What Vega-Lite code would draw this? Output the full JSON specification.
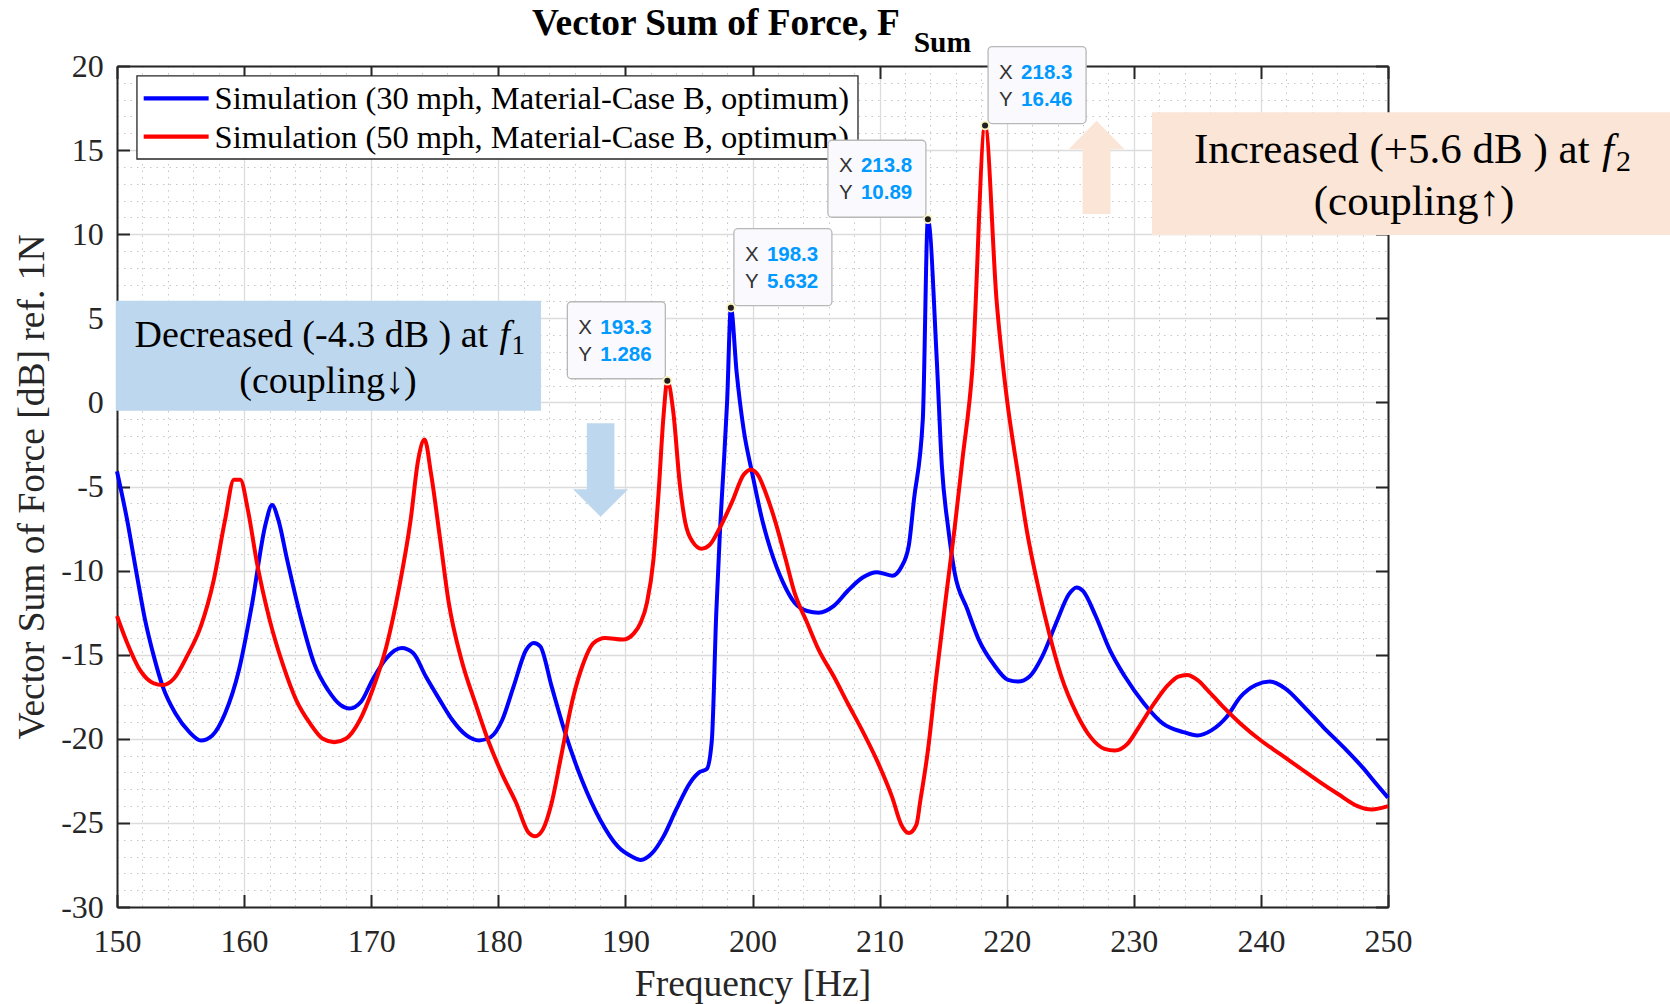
{
  "$schema": "https://vega.github.io/schema/vega-lite/v6.json",
  "width": 1271,
  "height": 841,
  "autosize": {"type": "none"},
  "padding": {"left": 117, "top": 66, "right": 282, "bottom": 97},
  "background": "white",
  "data": {"values": [{}]},
  "config": {
    "view": {"stroke": null},
    "axis": {
      "labelFont": "Liberation Serif",
      "labelFontSize": 32,
      "labelColor": "#262626",
      "labelFlush": false,
      "labelOverlap": false,
      "titleFont": "Liberation Serif",
      "titleFontWeight": "normal",
      "titleFontSize": 37.5,
      "titleColor": "#262626",
      "tickColor": "#262626",
      "domainColor": "#262626",
      "domainWidth": 2
    }
  },
  "datasets": {
    "spectra": [
      {"freq": 150.0, "level": -4.1, "series": "30 mph"},
      {"freq": 150.8, "level": -7.0, "series": "30 mph"},
      {"freq": 151.5, "level": -10.0, "series": "30 mph"},
      {"freq": 152.2, "level": -12.9, "series": "30 mph"},
      {"freq": 152.9, "level": -15.1, "series": "30 mph"},
      {"freq": 153.6, "level": -16.9, "series": "30 mph"},
      {"freq": 154.6, "level": -18.5, "series": "30 mph"},
      {"freq": 155.7, "level": -19.6, "series": "30 mph"},
      {"freq": 156.6, "level": -20.1, "series": "30 mph"},
      {"freq": 157.5, "level": -19.8, "series": "30 mph"},
      {"freq": 158.5, "level": -18.5, "series": "30 mph"},
      {"freq": 159.6, "level": -15.9, "series": "30 mph"},
      {"freq": 160.6, "level": -12.1, "series": "30 mph"},
      {"freq": 161.7, "level": -7.2, "series": "30 mph"},
      {"freq": 162.2, "level": -6.1, "series": "30 mph"},
      {"freq": 162.7, "level": -7.0, "series": "30 mph"},
      {"freq": 163.4, "level": -9.4, "series": "30 mph"},
      {"freq": 164.5, "level": -12.9, "series": "30 mph"},
      {"freq": 165.5, "level": -15.5, "series": "30 mph"},
      {"freq": 166.6, "level": -17.1, "series": "30 mph"},
      {"freq": 167.6, "level": -18.0, "series": "30 mph"},
      {"freq": 168.3, "level": -18.2, "series": "30 mph"},
      {"freq": 169.2, "level": -17.8, "series": "30 mph"},
      {"freq": 170.1, "level": -16.5, "series": "30 mph"},
      {"freq": 171.2, "level": -15.2, "series": "30 mph"},
      {"freq": 172.4, "level": -14.6, "series": "30 mph"},
      {"freq": 173.3, "level": -14.9, "series": "30 mph"},
      {"freq": 174.3, "level": -16.3, "series": "30 mph"},
      {"freq": 175.4, "level": -17.7, "series": "30 mph"},
      {"freq": 176.4, "level": -18.9, "series": "30 mph"},
      {"freq": 177.5, "level": -19.8, "series": "30 mph"},
      {"freq": 178.5, "level": -20.1, "series": "30 mph"},
      {"freq": 179.4, "level": -19.9, "series": "30 mph"},
      {"freq": 180.3, "level": -18.9, "series": "30 mph"},
      {"freq": 181.2, "level": -16.9, "series": "30 mph"},
      {"freq": 182.2, "level": -14.7, "series": "30 mph"},
      {"freq": 182.8, "level": -14.3, "series": "30 mph"},
      {"freq": 183.3, "level": -14.5, "series": "30 mph"},
      {"freq": 184.2, "level": -16.9, "series": "30 mph"},
      {"freq": 185.2, "level": -19.5, "series": "30 mph"},
      {"freq": 186.6, "level": -22.5, "series": "30 mph"},
      {"freq": 188.0, "level": -24.8, "series": "30 mph"},
      {"freq": 189.4, "level": -26.4, "series": "30 mph"},
      {"freq": 190.5, "level": -27.0, "series": "30 mph"},
      {"freq": 191.2, "level": -27.2, "series": "30 mph"},
      {"freq": 192.1, "level": -26.8, "series": "30 mph"},
      {"freq": 193.0, "level": -25.8, "series": "30 mph"},
      {"freq": 194.0, "level": -24.2, "series": "30 mph"},
      {"freq": 195.1, "level": -22.6, "series": "30 mph"},
      {"freq": 195.8, "level": -22.0, "series": "30 mph"},
      {"freq": 196.4, "level": -21.8, "series": "30 mph"},
      {"freq": 196.8, "level": -20.1, "series": "30 mph"},
      {"freq": 197.15, "level": -12.5, "series": "30 mph"},
      {"freq": 197.45, "level": -7.5, "series": "30 mph"},
      {"freq": 197.7, "level": -4.2, "series": "30 mph"},
      {"freq": 198.0, "level": 0.0, "series": "30 mph"},
      {"freq": 198.3, "level": 5.632, "series": "30 mph"},
      {"freq": 198.75, "level": 1.8, "series": "30 mph"},
      {"freq": 199.3, "level": -1.6, "series": "30 mph"},
      {"freq": 200.0, "level": -4.3, "series": "30 mph"},
      {"freq": 200.8, "level": -7.1, "series": "30 mph"},
      {"freq": 201.4, "level": -8.7, "series": "30 mph"},
      {"freq": 202.4, "level": -10.7, "series": "30 mph"},
      {"freq": 203.3, "level": -11.9, "series": "30 mph"},
      {"freq": 204.3, "level": -12.4, "series": "30 mph"},
      {"freq": 205.2, "level": -12.5, "series": "30 mph"},
      {"freq": 206.4, "level": -12.1, "series": "30 mph"},
      {"freq": 207.5, "level": -11.2, "series": "30 mph"},
      {"freq": 208.7, "level": -10.4, "series": "30 mph"},
      {"freq": 209.8, "level": -10.1, "series": "30 mph"},
      {"freq": 211.0, "level": -10.3, "series": "30 mph"},
      {"freq": 211.7, "level": -9.8, "series": "30 mph"},
      {"freq": 212.3, "level": -8.5, "series": "30 mph"},
      {"freq": 212.7, "level": -5.8, "series": "30 mph"},
      {"freq": 213.4, "level": -1.0, "series": "30 mph"},
      {"freq": 213.8, "level": 10.89, "series": "30 mph"},
      {"freq": 214.5, "level": 2.5, "series": "30 mph"},
      {"freq": 214.9, "level": -3.8, "series": "30 mph"},
      {"freq": 215.4, "level": -7.5, "series": "30 mph"},
      {"freq": 215.9, "level": -10.1, "series": "30 mph"},
      {"freq": 216.9, "level": -12.3, "series": "30 mph"},
      {"freq": 217.8, "level": -14.1, "series": "30 mph"},
      {"freq": 219.0, "level": -15.6, "series": "30 mph"},
      {"freq": 220.1, "level": -16.5, "series": "30 mph"},
      {"freq": 220.9, "level": -16.6, "series": "30 mph"},
      {"freq": 221.8, "level": -16.3, "series": "30 mph"},
      {"freq": 222.8, "level": -15.1, "series": "30 mph"},
      {"freq": 223.9, "level": -13.1, "series": "30 mph"},
      {"freq": 224.9, "level": -11.4, "series": "30 mph"},
      {"freq": 225.5, "level": -11.0, "series": "30 mph"},
      {"freq": 226.0, "level": -11.2, "series": "30 mph"},
      {"freq": 227.0, "level": -12.7, "series": "30 mph"},
      {"freq": 228.1, "level": -14.7, "series": "30 mph"},
      {"freq": 229.3, "level": -16.3, "series": "30 mph"},
      {"freq": 230.8, "level": -17.9, "series": "30 mph"},
      {"freq": 232.3, "level": -19.1, "series": "30 mph"},
      {"freq": 233.9, "level": -19.6, "series": "30 mph"},
      {"freq": 235.0, "level": -19.8, "series": "30 mph"},
      {"freq": 236.1, "level": -19.5, "series": "30 mph"},
      {"freq": 237.3, "level": -18.7, "series": "30 mph"},
      {"freq": 238.4, "level": -17.5, "series": "30 mph"},
      {"freq": 239.6, "level": -16.8, "series": "30 mph"},
      {"freq": 240.7, "level": -16.6, "series": "30 mph"},
      {"freq": 241.9, "level": -17.0, "series": "30 mph"},
      {"freq": 243.4, "level": -18.1, "series": "30 mph"},
      {"freq": 244.9, "level": -19.3, "series": "30 mph"},
      {"freq": 246.5, "level": -20.5, "series": "30 mph"},
      {"freq": 248.0, "level": -21.7, "series": "30 mph"},
      {"freq": 249.1, "level": -22.7, "series": "30 mph"},
      {"freq": 250.0, "level": -23.5, "series": "30 mph"},
      {"freq": 150.0, "level": -12.7, "series": "50 mph"},
      {"freq": 150.8, "level": -14.3, "series": "50 mph"},
      {"freq": 151.8, "level": -15.9, "series": "50 mph"},
      {"freq": 152.9, "level": -16.7, "series": "50 mph"},
      {"freq": 153.6, "level": -16.8, "series": "50 mph"},
      {"freq": 154.5, "level": -16.4, "series": "50 mph"},
      {"freq": 155.5, "level": -15.1, "series": "50 mph"},
      {"freq": 156.6, "level": -13.3, "series": "50 mph"},
      {"freq": 157.6, "level": -10.6, "series": "50 mph"},
      {"freq": 158.5, "level": -7.0, "series": "50 mph"},
      {"freq": 159.2, "level": -4.6, "series": "50 mph"},
      {"freq": 159.7, "level": -4.6, "series": "50 mph"},
      {"freq": 160.3, "level": -6.4, "series": "50 mph"},
      {"freq": 161.0, "level": -9.5, "series": "50 mph"},
      {"freq": 162.0, "level": -12.9, "series": "50 mph"},
      {"freq": 163.1, "level": -15.7, "series": "50 mph"},
      {"freq": 164.1, "level": -17.7, "series": "50 mph"},
      {"freq": 165.2, "level": -19.1, "series": "50 mph"},
      {"freq": 166.2, "level": -20.0, "series": "50 mph"},
      {"freq": 167.1, "level": -20.2, "series": "50 mph"},
      {"freq": 168.0, "level": -20.0, "series": "50 mph"},
      {"freq": 169.1, "level": -18.9, "series": "50 mph"},
      {"freq": 170.1, "level": -17.1, "series": "50 mph"},
      {"freq": 171.2, "level": -14.5, "series": "50 mph"},
      {"freq": 172.2, "level": -11.0, "series": "50 mph"},
      {"freq": 173.1, "level": -7.0, "series": "50 mph"},
      {"freq": 173.7, "level": -3.4, "series": "50 mph"},
      {"freq": 174.2, "level": -2.2, "series": "50 mph"},
      {"freq": 174.7, "level": -4.2, "series": "50 mph"},
      {"freq": 175.4, "level": -8.0, "series": "50 mph"},
      {"freq": 176.1, "level": -11.9, "series": "50 mph"},
      {"freq": 177.1, "level": -15.3, "series": "50 mph"},
      {"freq": 178.2, "level": -17.9, "series": "50 mph"},
      {"freq": 179.2, "level": -20.1, "series": "50 mph"},
      {"freq": 180.3, "level": -22.1, "series": "50 mph"},
      {"freq": 181.4, "level": -23.8, "series": "50 mph"},
      {"freq": 182.4, "level": -25.6, "series": "50 mph"},
      {"freq": 182.9, "level": -25.8, "series": "50 mph"},
      {"freq": 183.5, "level": -25.4, "series": "50 mph"},
      {"freq": 184.2, "level": -23.8, "series": "50 mph"},
      {"freq": 184.9, "level": -21.2, "series": "50 mph"},
      {"freq": 185.9, "level": -17.5, "series": "50 mph"},
      {"freq": 186.6, "level": -15.7, "series": "50 mph"},
      {"freq": 187.5, "level": -14.3, "series": "50 mph"},
      {"freq": 188.4, "level": -14.0, "series": "50 mph"},
      {"freq": 189.8, "level": -14.1, "series": "50 mph"},
      {"freq": 190.7, "level": -13.7, "series": "50 mph"},
      {"freq": 191.2, "level": -13.1, "series": "50 mph"},
      {"freq": 191.7, "level": -11.9, "series": "50 mph"},
      {"freq": 192.2, "level": -9.4, "series": "50 mph"},
      {"freq": 192.6, "level": -5.5, "series": "50 mph"},
      {"freq": 193.0, "level": -0.8, "series": "50 mph"},
      {"freq": 193.3, "level": 1.286, "series": "50 mph"},
      {"freq": 193.75, "level": -0.45, "series": "50 mph"},
      {"freq": 194.3, "level": -5.0, "series": "50 mph"},
      {"freq": 194.7, "level": -7.1, "series": "50 mph"},
      {"freq": 195.3, "level": -8.3, "series": "50 mph"},
      {"freq": 196.0, "level": -8.7, "series": "50 mph"},
      {"freq": 196.6, "level": -8.5, "series": "50 mph"},
      {"freq": 197.4, "level": -7.5, "series": "50 mph"},
      {"freq": 198.4, "level": -5.9, "series": "50 mph"},
      {"freq": 199.3, "level": -4.3, "series": "50 mph"},
      {"freq": 199.9, "level": -4.0, "series": "50 mph"},
      {"freq": 200.5, "level": -4.4, "series": "50 mph"},
      {"freq": 201.0, "level": -5.3, "series": "50 mph"},
      {"freq": 201.8, "level": -7.1, "series": "50 mph"},
      {"freq": 202.6, "level": -9.3, "series": "50 mph"},
      {"freq": 203.3, "level": -11.3, "series": "50 mph"},
      {"freq": 204.3, "level": -13.1, "series": "50 mph"},
      {"freq": 205.2, "level": -14.7, "series": "50 mph"},
      {"freq": 206.4, "level": -16.3, "series": "50 mph"},
      {"freq": 207.5, "level": -17.9, "series": "50 mph"},
      {"freq": 208.7, "level": -19.6, "series": "50 mph"},
      {"freq": 209.8, "level": -21.3, "series": "50 mph"},
      {"freq": 211.0, "level": -23.5, "series": "50 mph"},
      {"freq": 211.7, "level": -25.1, "series": "50 mph"},
      {"freq": 212.3, "level": -25.6, "series": "50 mph"},
      {"freq": 212.9, "level": -25.1, "series": "50 mph"},
      {"freq": 213.2, "level": -23.7, "series": "50 mph"},
      {"freq": 213.8, "level": -20.7, "series": "50 mph"},
      {"freq": 214.4, "level": -16.7, "series": "50 mph"},
      {"freq": 215.2, "level": -11.7, "series": "50 mph"},
      {"freq": 215.9, "level": -7.5, "series": "50 mph"},
      {"freq": 216.5, "level": -3.5, "series": "50 mph"},
      {"freq": 217.3, "level": 2.0, "series": "50 mph"},
      {"freq": 218.3, "level": 16.46, "series": "50 mph"},
      {"freq": 219.2, "level": 6.1, "series": "50 mph"},
      {"freq": 220.0, "level": 0.3, "series": "50 mph"},
      {"freq": 220.9, "level": -4.3, "series": "50 mph"},
      {"freq": 221.6, "level": -7.7, "series": "50 mph"},
      {"freq": 222.4, "level": -10.7, "series": "50 mph"},
      {"freq": 223.4, "level": -13.9, "series": "50 mph"},
      {"freq": 224.3, "level": -16.3, "series": "50 mph"},
      {"freq": 225.5, "level": -18.5, "series": "50 mph"},
      {"freq": 226.6, "level": -19.9, "series": "50 mph"},
      {"freq": 227.7, "level": -20.6, "series": "50 mph"},
      {"freq": 228.5, "level": -20.7, "series": "50 mph"},
      {"freq": 229.5, "level": -20.3, "series": "50 mph"},
      {"freq": 230.4, "level": -19.3, "series": "50 mph"},
      {"freq": 231.6, "level": -17.9, "series": "50 mph"},
      {"freq": 232.7, "level": -16.8, "series": "50 mph"},
      {"freq": 233.5, "level": -16.3, "series": "50 mph"},
      {"freq": 234.2, "level": -16.2, "series": "50 mph"},
      {"freq": 235.0, "level": -16.5, "series": "50 mph"},
      {"freq": 235.8, "level": -17.1, "series": "50 mph"},
      {"freq": 236.9, "level": -18.0, "series": "50 mph"},
      {"freq": 238.4, "level": -19.1, "series": "50 mph"},
      {"freq": 240.0, "level": -20.1, "series": "50 mph"},
      {"freq": 241.5, "level": -20.9, "series": "50 mph"},
      {"freq": 243.0, "level": -21.7, "series": "50 mph"},
      {"freq": 244.5, "level": -22.5, "series": "50 mph"},
      {"freq": 246.1, "level": -23.3, "series": "50 mph"},
      {"freq": 247.6, "level": -24.0, "series": "50 mph"},
      {"freq": 248.7, "level": -24.2, "series": "50 mph"},
      {"freq": 250.0, "level": -24.0, "series": "50 mph"}
    ],
    "peaks": [
      {"freq": 193.3, "level": 1.286, "series": "50 mph"},
      {"freq": 198.3, "level": 5.632, "series": "30 mph"},
      {"freq": 213.8, "level": 10.89, "series": "30 mph"},
      {"freq": 218.3, "level": 16.46, "series": "50 mph"}
    ]
  },
  "layer": [
    {
      "mark": {"type": "rect", "fill": "#bdd7ee"},
      "encoding": {
        "x": {"datum": 149.9, "type": "quantitative", "axis": {
          "orient": "bottom", "values": [152,154,156,158,162,164,166,168,172,174,176,178,182,184,186,188,192,194,196,198,202,204,206,208,212,214,216,218,222,224,226,228,232,234,236,238,242,244,246,248],
          "grid": true, "gridColor": "#c6c6c6", "gridDash": [1.5, 5], "gridWidth": 1,
          "ticks": false, "labels": false, "domain": false, "title": null}},
        "x2": {"datum": 183.36},
        "y": {"datum": 6.05, "type": "quantitative", "axis": {
          "orient": "left", "values": [-29,-28,-27,-26,-24,-23,-22,-21,-19,-18,-17,-16,-14,-13,-12,-11,-9,-8,-7,-6,-4,-3,-2,-1,1,2,3,4,6,7,8,9,11,12,13,14,16,17,18,19],
          "grid": true, "gridColor": "#c6c6c6", "gridDash": [1.5, 5], "gridWidth": 1,
          "ticks": false, "labels": false, "domain": false, "title": null}},
        "y2": {"datum": -0.49}
      }
    },
    {
      "mark": {"type": "rect", "fill": "#fbe5d6"},
      "encoding": {
        "x": {"datum": 231.43, "type": "quantitative", "axis": null},
        "x2": {"datum": 272.2},
        "y": {"datum": 17.25, "type": "quantitative", "axis": null},
        "y2": {"datum": 9.95}
      }
    },
    {
      "mark": {"type": "rect", "fill": "white", "stroke": "#262626", "strokeWidth": 1.3},
      "encoding": {
        "x": {"datum": 151.57, "type": "quantitative", "axis": null},
        "x2": {"datum": 208.3},
        "y": {"datum": 19.41, "type": "quantitative", "axis": null},
        "y2": {"datum": 14.47}
      }
    },
    {
      "mark": {"type": "rule", "color": "#0000ff", "strokeWidth": 4.3},
      "encoding": {
        "x": {"datum": 152.1, "type": "quantitative", "axis": null},
        "x2": {"datum": 157.21},
        "y": {"datum": 18.08, "type": "quantitative", "axis": null}
      }
    },
    {
      "mark": {"type": "rule", "color": "#ff0000", "strokeWidth": 4.3},
      "encoding": {
        "x": {"datum": 152.1, "type": "quantitative", "axis": null},
        "x2": {"datum": 157.21},
        "y": {"datum": 15.8, "type": "quantitative", "axis": null}
      }
    },
    {
      "mark": {"type": "text", "text": "Simulation (30 mph, Material-Case B, optimum)", "align": "left", "baseline": "alphabetic", "font": "Liberation Serif", "fontSize": 32.5, "color": "#000000"},
      "encoding": {
        "x": {"datum": 157.68, "type": "quantitative", "axis": null},
        "y": {"datum": 17.43, "type": "quantitative", "axis": null}
      }
    },
    {
      "mark": {"type": "text", "text": "Simulation (50 mph, Material-Case B, optimum)", "align": "left", "baseline": "alphabetic", "font": "Liberation Serif", "fontSize": 32.5, "color": "#000000"},
      "encoding": {
        "x": {"datum": 157.68, "type": "quantitative", "axis": null},
        "y": {"datum": 15.14, "type": "quantitative", "axis": null}
      }
    },
    {
      "data": {"name": "spectra"},
      "mark": {"type": "line", "strokeWidth": 4, "interpolate": "monotone", "strokeJoin": "round"},
      "encoding": {
        "x": {"field": "freq", "type": "quantitative",
          "scale": {"domain": [150, 250], "nice": false, "zero": false},
          "axis": {
            "orient": "bottom", "values": [150,160,170,180,190,200,210,220,230,240,250],
            "grid": true, "gridColor": "#dcdcdc", "gridWidth": 1.3,
            "domain": true,
            "ticks": true, "tickSize": -12.5, "tickWidth": 2,
            "labelPadding": 56.5, "labelBaseline": "alphabetic",
            "labelExpr": "replace(datum.label, '\u2212', '-')",
            "title": "Frequency [Hz]", "titleX": 635.5, "titleY": 88,
            "titleAlign": "center", "titleBaseline": "alphabetic", "titleAngle": 0
          }},
        "y": {"field": "level", "type": "quantitative",
          "scale": {"domain": [-30, 20], "nice": false, "zero": false},
          "axis": {
            "orient": "left", "values": [-30,-25,-20,-15,-10,-5,0,5,10,15,20],
            "grid": true, "gridColor": "#dcdcdc", "gridWidth": 1.3,
            "domain": true,
            "ticks": true, "tickSize": -12.5, "tickWidth": 2,
            "labelPadding": 26.2,
            "labelExpr": "replace(datum.label, '\u2212', '-')",
            "title": "Vector Sum of Force [dB] ref. 1N", "titleX": -73.7, "titleY": 420.5,
            "titleAngle": 270, "titleAlign": "center", "titleBaseline": "alphabetic"
          }},
        "color": {"field": "series", "type": "nominal",
          "scale": {"domain": ["30 mph", "50 mph"], "range": ["#0000ff", "#ff0000"]},
          "legend": null}
      }
    },
    {
      "mark": {"type": "point", "filled": true, "opacity": 1, "color": "#bdd7ee", "strokeWidth": 0, "size": 8724,
        "shape": "M-0.295,-1L0.295,-1L0.295,0.413L0.589,0.413L0,1L-0.589,0.413L-0.295,0.413Z"},
      "encoding": {
        "x": {"datum": 188.05, "type": "quantitative", "axis": null},
        "y": {"datum": -4.02, "type": "quantitative", "axis": null}
      }
    },
    {
      "mark": {"type": "point", "filled": true, "opacity": 1, "color": "#fbe5d6", "strokeWidth": 0, "size": 8705,
        "shape": "M0,-1L0.596,-0.387L0.3,-0.387L0.3,1L-0.3,1L-0.3,-0.387L-0.596,-0.387Z"},
      "encoding": {
        "x": {"datum": 227.07, "type": "quantitative", "axis": null},
        "y": {"datum": 13.97, "type": "quantitative", "axis": null}
      }
    },
    {
      "data": {"name": "peaks"},
      "transform": [{"filter": "datum.freq == 193.3 || datum.freq == 213.8"}],
      "encoding": {
        "x": {"field": "freq", "type": "quantitative", "axis": null},
        "y": {"field": "level", "type": "quantitative", "axis": null}
      },
      "layer": [
        {"mark": {"type": "rect", "xOffset": -100, "x2Offset": -2, "yOffset": -79, "y2Offset": -2, "fill": "#f9f9fe", "stroke": "#b8b8b8", "strokeWidth": 1.3, "cornerRadius": 4},
         "encoding": {"x2": {"field": "freq"}, "y2": {"field": "level"}}},
        {"mark": {"type": "text", "text": "X", "align": "left", "baseline": "middle", "dx": -89, "dy": -53, "font": "Liberation Sans", "fontSize": 20.5, "color": "#333333"}},
        {"mark": {"type": "text", "align": "left", "baseline": "middle", "dx": -67, "dy": -53, "font": "Liberation Sans", "fontSize": 20.5, "fontWeight": "bold", "color": "#0099ff"},
         "encoding": {"text": {"field": "freq", "type": "quantitative", "format": ".4"}}},
        {"mark": {"type": "text", "text": "Y", "align": "left", "baseline": "middle", "dx": -89, "dy": -26, "font": "Liberation Sans", "fontSize": 20.5, "color": "#333333"}},
        {"mark": {"type": "text", "align": "left", "baseline": "middle", "dx": -67, "dy": -26, "font": "Liberation Sans", "fontSize": 20.5, "fontWeight": "bold", "color": "#0099ff"},
         "encoding": {"text": {"field": "level", "type": "quantitative", "format": ".4"}}}
      ]
    },
    {
      "data": {"name": "peaks"},
      "transform": [{"filter": "datum.freq == 198.3 || datum.freq == 218.3"}],
      "encoding": {
        "x": {"field": "freq", "type": "quantitative", "axis": null},
        "y": {"field": "level", "type": "quantitative", "axis": null}
      },
      "layer": [
        {"mark": {"type": "rect", "xOffset": 3, "x2Offset": 101, "yOffset": -79, "y2Offset": -2, "fill": "#f9f9fe", "stroke": "#b8b8b8", "strokeWidth": 1.3, "cornerRadius": 4},
         "encoding": {"x2": {"field": "freq"}, "y2": {"field": "level"}}},
        {"mark": {"type": "text", "text": "X", "align": "left", "baseline": "middle", "dx": 14, "dy": -53, "font": "Liberation Sans", "fontSize": 20.5, "color": "#333333"}},
        {"mark": {"type": "text", "align": "left", "baseline": "middle", "dx": 36, "dy": -53, "font": "Liberation Sans", "fontSize": 20.5, "fontWeight": "bold", "color": "#0099ff"},
         "encoding": {"text": {"field": "freq", "type": "quantitative", "format": ".4"}}},
        {"mark": {"type": "text", "text": "Y", "align": "left", "baseline": "middle", "dx": 14, "dy": -26, "font": "Liberation Sans", "fontSize": 20.5, "color": "#333333"}},
        {"mark": {"type": "text", "align": "left", "baseline": "middle", "dx": 36, "dy": -26, "font": "Liberation Sans", "fontSize": 20.5, "fontWeight": "bold", "color": "#0099ff"},
         "encoding": {"text": {"field": "level", "type": "quantitative", "format": ".4"}}}
      ]
    },
    {
      "data": {"name": "peaks"},
      "mark": {"type": "point", "filled": true, "opacity": 1, "size": 62, "fill": "#1f1f1f", "stroke": "#fbf3c4", "strokeWidth": 1.8},
      "encoding": {
        "x": {"field": "freq", "type": "quantitative",
          "axis": {"orient": "top", "values": [150,160,170,180,190,200,210,220,230,240,250],
            "grid": false, "labels": false, "domain": true, "ticks": true, "tickSize": -12.5, "tickWidth": 2, "title": null}},
        "y": {"field": "level", "type": "quantitative",
          "axis": {"orient": "right", "values": [-30,-25,-20,-15,-10,-5,0,5,10,15,20],
            "grid": false, "labels": false, "domain": true, "ticks": true, "tickSize": -12.5, "tickWidth": 2, "title": null}}
      }
    },
    {
      "mark": {"type": "text", "text": "Decreased (-4.3 dB ) at", "align": "left", "baseline": "alphabetic", "font": "Liberation Serif", "fontSize": 38, "color": "#000000"},
      "encoding": {
        "x": {"datum": 151.385, "type": "quantitative", "axis": null},
        "y": {"datum": 3.31, "type": "quantitative", "axis": null}
      }
    },
    {
      "mark": {"type": "text", "text": "f", "align": "left", "baseline": "alphabetic", "dx": 365, "font": "Liberation Serif", "fontStyle": "italic", "fontSize": 38, "color": "#000000"},
      "encoding": {
        "x": {"datum": 151.385, "type": "quantitative", "axis": null},
        "y": {"datum": 3.31, "type": "quantitative", "axis": null}
      }
    },
    {
      "mark": {"type": "text", "text": "1", "align": "left", "baseline": "alphabetic", "dx": 377, "dy": 7, "font": "Liberation Serif", "fontSize": 27, "color": "#000000"},
      "encoding": {
        "x": {"datum": 151.385, "type": "quantitative", "axis": null},
        "y": {"datum": 3.31, "type": "quantitative", "axis": null}
      }
    },
    {
      "mark": {"type": "text", "text": "(coupling\u2193)", "align": "center", "baseline": "alphabetic", "font": "Liberation Serif", "fontSize": 38, "color": "#000000"},
      "encoding": {
        "x": {"datum": 166.6, "type": "quantitative", "axis": null},
        "y": {"datum": 0.58, "type": "quantitative", "axis": null}
      }
    },
    {
      "mark": {"type": "text", "text": "Increased (+5.6 dB ) at", "align": "left", "baseline": "alphabetic", "font": "Liberation Serif", "fontSize": 43, "color": "#000000"},
      "encoding": {
        "x": {"datum": 234.74, "type": "quantitative", "axis": null},
        "y": {"datum": 14.21, "type": "quantitative", "axis": null}
      }
    },
    {
      "mark": {"type": "text", "text": "f", "align": "left", "baseline": "alphabetic", "dx": 408, "font": "Liberation Serif", "fontStyle": "italic", "fontSize": 43, "color": "#000000"},
      "encoding": {
        "x": {"datum": 234.74, "type": "quantitative", "axis": null},
        "y": {"datum": 14.21, "type": "quantitative", "axis": null}
      }
    },
    {
      "mark": {"type": "text", "text": "2", "align": "left", "baseline": "alphabetic", "dx": 422, "dy": 8, "font": "Liberation Serif", "fontSize": 30, "color": "#000000"},
      "encoding": {
        "x": {"datum": 234.74, "type": "quantitative", "axis": null},
        "y": {"datum": 14.21, "type": "quantitative", "axis": null}
      }
    },
    {
      "mark": {"type": "text", "text": "(coupling\u2191)", "align": "center", "baseline": "alphabetic", "font": "Liberation Serif", "fontSize": 43, "color": "#000000"},
      "encoding": {
        "x": {"datum": 252.05, "type": "quantitative", "axis": null},
        "y": {"datum": 11.14, "type": "quantitative", "axis": null}
      }
    },
    {
      "mark": {"type": "text", "text": "Vector Sum of Force, F", "align": "left", "baseline": "alphabetic", "font": "Liberation Serif", "fontSize": 37.4, "fontWeight": "bold", "color": "#000000"},
      "encoding": {
        "x": {"datum": 182.65, "type": "quantitative", "axis": null},
        "y": {"datum": 21.86, "type": "quantitative", "axis": null}
      }
    },
    {
      "mark": {"type": "text", "text": "Sum", "align": "left", "baseline": "alphabetic", "font": "Liberation Serif", "fontSize": 29.5, "fontWeight": "bold", "color": "#000000"},
      "encoding": {
        "x": {"datum": 212.68, "type": "quantitative", "axis": null},
        "y": {"datum": 20.82, "type": "quantitative", "axis": null}
      }
    }
  ],
  "resolve": {"axis": {"x": "independent", "y": "independent"}}
}
